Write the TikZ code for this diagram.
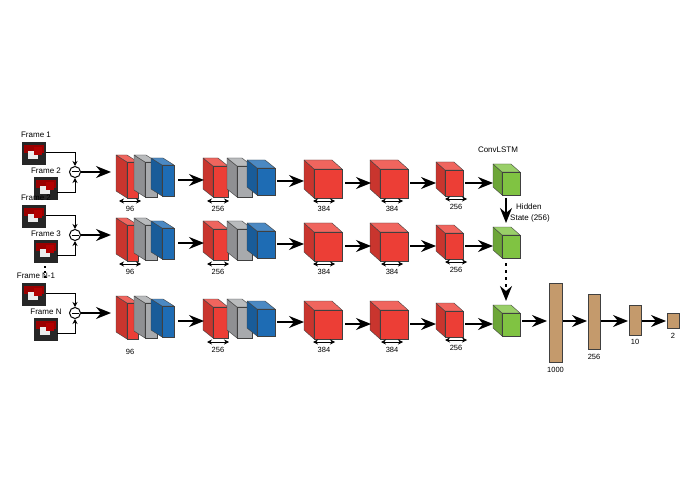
\documentclass[tikz,border=0pt]{standalone}
\usepackage{fontspec}
\setmainfont{Liberation Sans}
\usetikzlibrary{arrows.meta}
\definecolor{cred}{HTML}{EC3E36}
\definecolor{cgray}{HTML}{A8AAAD}
\definecolor{cblue}{HTML}{1E6CB4}
\definecolor{cgreen}{HTML}{80C342}
\definecolor{ctan}{HTML}{C49A6C}
\tikzset{
 big/.style={line width=1.6pt,-{Stealth[length=15pt,width=12pt,inset=5pt]}},
 thin/.style={line width=0.9pt,-{Stealth[length=5pt,width=5pt]}},
 dbl/.style={line width=0.7pt,{Stealth[length=5pt,width=5pt]}-{Stealth[length=5pt,width=5pt]}},
 lbl/.style={font=\fontsize{7.5}{8}\selectfont,inner sep=0pt},
 flbl/.style={font=\fontsize{8}{9}\selectfont,inner sep=0pt},
}
\newcommand\prism[7]{%
 \filldraw[fill=#7!85!black,draw=black!75,line width=.4pt,line join=round] (#1,#2)--(#1-#5,#2-#6)--(#1-#5,#4-#6)--(#1,#4)--cycle;
 \filldraw[fill=#7!80!white,draw=black!75,line width=.4pt,line join=round] (#1,#2)--(#1-#5,#2-#6)--(#3-#5,#2-#6)--(#3,#2)--cycle;
 \filldraw[fill=#7,draw=black!75,line width=.4pt] (#1,#2) rectangle (#3,#4);}
\newcommand\frameimg[2]{%
 \fill[black!85] (#1,#2) rectangle (#1+24,#2+23);
 \fill[red!60!black] (#1+2,#2+3) rectangle (#1+22,#2+11);
 \fill[white!85!gray] (#1+6,#2+9) rectangle (#1+16,#2+17);
 \fill[red!70!black] (#1+12,#2+5) rectangle (#1+20,#2+13);}
\begin{document}
\begin{tikzpicture}[x=1pt,y=-1pt]
\useasboundingbox (0,0) rectangle (695,494);
\foreach \o/\fa/\fb in {0/Frame 1/Frame 2,63/Frame 2/Frame 3,141/Frame N-1/Frame N}{
 \frameimg{22}{142+\o}
 \frameimg{34}{177+\o}
 \node[flbl] (fa) at (36,135+\o) {\fa};
 \node[flbl] (fb) at (46,171+\o) {\fb};
 \node[circle,draw,line width=1pt,minimum size=11pt,inner sep=0pt] (m) at (75,172+\o) {};
 \draw[line width=1pt] (m.center)+(-3.5,0)--+(3.5,0);
 \coordinate (a1) at (46,152+\o); \coordinate (a2) at (57,192+\o);
 \draw[thin] (a1)-|(m.north);
 \draw[thin] (a2)-|(m.south);
 \coordinate (b1) at (111,172+\o);
 \draw[big] (m.east)--(b1);
 \prism{127}{162+\o}{138}{198+\o}{11}{7}{cred}
 \prism{145}{162+\o}{157}{197+\o}{11}{7}{cgray}
 \prism{162}{165+\o}{174}{196+\o}{11}{7}{cblue}
 \prism{213}{166+\o}{228}{197+\o}{10}{8}{cred}
 \prism{237}{166+\o}{252}{197+\o}{10}{8}{cgray}
 \prism{257}{168+\o}{275}{195+\o}{10}{8}{cblue}
 \prism{314}{169+\o}{342}{198+\o}{10}{9}{cred}
 \prism{380}{169+\o}{408}{198+\o}{10}{9}{cred}
 \prism{445}{170+\o}{463}{196+\o}{9}{8}{cred}
 \prism{502}{172+\o}{520}{195+\o}{9}{8}{cgreen}
 \draw[big] (178,180+\o)--(204,180+\o);
 \draw[big] (277,181+\o)--(304,181+\o);
 \draw[big] (345,183+\o)--(371,183+\o);
 \draw[big] (410,183+\o)--(436,183+\o);
 \draw[big] (465,183+\o)--(493,183+\o);
 \draw[dbl] (207,201+\o)--(229,201+\o); \node[lbl] at (218,209+\o) {256};
 \draw[dbl] (313,201+\o)--(335,201+\o); \node[lbl] at (324,209+\o) {384};
 \draw[dbl] (381,201+\o)--(403,201+\o); \node[lbl] at (392,209+\o) {384};
 \draw[dbl] (445,199+\o)--(467,199+\o); \node[lbl] at (456,207+\o) {256};
}
\draw[dbl] (119,201)--(141,201); \node[lbl] at (130,209) {96};
\draw[dbl] (119,264)--(141,264); \node[lbl] at (130,272) {96};
\node[lbl] at (130,352) {96};
\draw[line width=1.3pt,dash pattern=on 2pt off 3pt] (45,266)--(45,280);
\node[flbl] (cl) at (498,150) {ConvLSTM};
\coordinate (g1) at (506,198); \coordinate (g2) at (506,223);
\draw[big] (g1)--(g2);
\node[flbl,anchor=west] at (516,207) {Hidden};
\node[flbl,anchor=west] at (510,218) {State (256)};
\coordinate (g3) at (506,263); \coordinate (g4) at (506,301);
\draw[big,dash pattern=on 3pt off 4pt] (g3)--(g4);
\foreach \xa/\ya/\xb/\yb/\t/\ty in {549/283/562/362/1000/370,588/294/600/349/256/357,629/305/641/335/10/342,667/313/679/328/2/336}{
 \filldraw[fill=ctan,draw=black!75,line width=.4pt] (\xa,\ya) rectangle (\xb,\yb);
 \node[lbl] at ({(\xa+\xb)/2},\ty) {\t};
}
\draw[big] (522,321)--(547,321);
\draw[big] (563,321)--(587,321);
\draw[big] (601,321)--(628,321);
\draw[big] (642,321)--(666,321);
\end{tikzpicture}
\end{document}
